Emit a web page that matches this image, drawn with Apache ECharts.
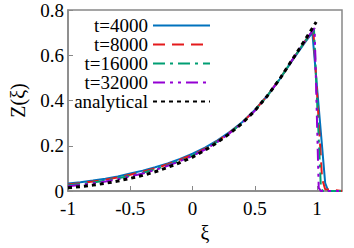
<!DOCTYPE html>
<html><head><meta charset="utf-8">
<script src="https://cdn.jsdelivr.net/npm/echarts@6/dist/echarts.min.js"></script>
<style>html,body{margin:0;padding:0;background:#fff}#c{width:354px;height:248px}</style>
</head><body><div id="c"></div>
<script>
const xi = [-1,-0.9,-0.8,-0.7,-0.6,-0.5,-0.4,-0.3,-0.2,-0.1,0,0.1,0.2,0.3,0.4,0.5,0.6,0.7,0.8,0.9];
const names = ['t=4000','t=8000','t=16000','t=32000','analytical'];
const z4000 = [0.033,0.039,0.046,0.054,0.064,0.077,0.090,0.105,0.122,0.142,0.165,0.192,0.224,0.262,0.305,0.358,0.421,0.494,0.576,0.655];
const tail4000 = [[0.962,0.70],[1.065,0.035],[1.09,0.0],[1.2,0]];
const z8000 = [0.029,0.035,0.042,0.050,0.060,0.072,0.085,0.100,0.118,0.138,0.160,0.187,0.220,0.259,0.303,0.357,0.421,0.495,0.578,0.660];
const tail8000 = [[0.97,0.71],[1.04,0.055],[1.05,0.035],[1.065,0.008],[1.2,0]];
const z16000 = [0.025,0.031,0.038,0.046,0.056,0.067,0.080,0.096,0.114,0.134,0.157,0.184,0.218,0.257,0.302,0.356,0.420,0.495,0.578,0.660];
const tail16000 = [[0.975,0.715],[1.03,0.02],[1.045,0.0],[1.2,0]];
const z32000 = [0.021,0.027,0.034,0.042,0.052,0.064,0.077,0.093,0.111,0.132,0.155,0.183,0.217,0.256,0.301,0.355,0.420,0.495,0.579,0.662];
const tail32000 = [[0.98,0.72],[1.013,0.014],[1.03,0],[1.2,0]];
const zAnalytical = [0.014,0.019,0.026,0.034,0.044,0.056,0.069,0.085,0.104,0.126,0.150,0.180,0.215,0.255,0.300,0.355,0.420,0.495,0.580,0.665];
const tailAnalytical = [[0.993,0.747]];

function pts(z, tail){ return xi.map((x,i)=>[x,z[i]]).concat(tail); }

const colors = ['#0072bd','#e41a1c','#009e73','#9400d3','#000000'];
const dashes = ['solid',[12,7],[12,5,3,5],[12,5,3,5,3,5],[4,4]];
const widths = [2,2,2,2,3];
const data = [pts(z4000,tail4000),pts(z8000,tail8000),pts(z16000,tail16000),pts(z32000,tail32000),pts(zAnalytical,tailAnalytical)];

const font = "Liberation Serif";
const chart = echarts.init(document.getElementById('c'), null, {renderer:'svg'});
chart.setOption({
  animation:false,
  textStyle:{fontFamily:font},
  grid:{left:59,top:10,right:12,bottom:48,show:true,borderColor:'#888',borderWidth:1.5},
  legend:{
    orient:'vertical', align:'right', right:138, top:11, itemGap:0,
    itemWidth:57, itemHeight:19.5,
    itemStyle:{opacity:0},
    textStyle:{fontFamily:font,fontSize:19,color:'#000'},
    data:names
  },
  xAxis:{type:'value',min:-1,max:1.2,interval:0.5,
    name:'ξ',nameLocation:'middle',nameGap:32,
    nameTextStyle:{fontFamily:font,fontSize:20,color:'#000'},
    axisLine:{onZero:false,lineStyle:{color:'#888',width:1.5}},
    axisTick:{inside:true,length:5,lineStyle:{color:'#888'}},
    axisLabel:{fontFamily:font,fontSize:19,color:'#000',margin:8,showMaxLabel:false},
    splitLine:{show:false}},
  yAxis:{type:'value',min:0,max:0.8,interval:0.2,
    name:'Z(ξ)',nameLocation:'middle',nameGap:40,nameRotate:90,
    nameTextStyle:{fontFamily:font,fontSize:20,color:'#000'},
    axisLine:{onZero:false,lineStyle:{color:'#888',width:1.5}},
    axisTick:{inside:true,length:5,lineStyle:{color:'#888'}},
    axisLabel:{fontFamily:font,fontSize:19,color:'#000',margin:4},
    splitLine:{show:false}},
  series:names.map((n,i)=>({
    name:n,type:'line',data:data[i],showSymbol:false,symbol:'none',
    lineStyle:{color:colors[i],type:dashes[i],width:widths[i]},
    itemStyle:{color:colors[i]}
  }))
});
</script></body></html>
